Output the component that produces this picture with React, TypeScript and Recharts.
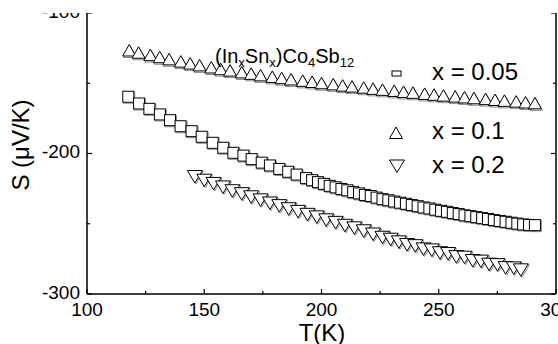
import { ScatterChart, Scatter, XAxis, YAxis } from 'recharts'

// x = 0.05 (squares)
const tempX005 = [
  117.6, 122.2, 126.6, 131.1, 135.4, 139.9, 144.6, 148.9, 153.6, 158.1, 162.4,
  166.7, 170.2, 174.5, 178, 182, 185.8, 189.4, 193.4,
  196, 198.5, 201, 203.5, 206, 208.5, 211, 213.5, 216, 218.5, 221, 223.5, 226,
  228.5, 231, 233.5, 236, 238.5, 241, 243.5, 246, 248.5, 251, 253.5, 256, 258.5,
  261, 263.5, 266, 268.5, 271, 273.5, 276, 278.5, 281, 283.5, 286, 288.5, 291,
]
const seebeckX005 = [
  -159.6, -164.4, -168.2, -172.2, -176.3, -180.6, -184.1, -188.1, -192.4, -195.9, -199.5,
  -201.5, -204, -206.5, -208.5, -211, -213, -215, -217.5,
  -219, -220.4, -221.6, -223, -224.1, -225.3, -226.2, -227.5, -228.4, -229.5, -230.3,
  -231.4, -232.5, -233.3, -234.2, -235, -235.8, -236.7, -237.5, -238.4, -239.1, -240,
  -240.8, -241.5, -242.4, -243.1, -244, -244.6, -245.3, -246, -246.6, -247.4, -248,
  -248.6, -249.3, -249.9, -250.5, -250.8, -251,
]

// x = 0.1 (up triangles)
const tempX01 = [
  118, 122, 127, 131, 135, 140, 144, 148, 153, 157, 161, 166, 170, 174, 179, 183,
  187, 192, 196, 200, 205, 209, 213, 218, 222, 226, 231, 235, 239, 244, 248, 252,
  257, 261, 265, 270, 274, 278, 283, 287, 291,
]
const seebeckX01 = [
  -126.7, -128.3, -130, -131.5, -133, -134.6, -136, -137.3, -138.8, -140, -141,
  -142.3, -143.3, -144.4, -145.5, -146.4, -147.3, -148.3, -149.1, -150, -150.8,
  -151.7, -152.4, -153.2, -154, -154.7, -155.5, -156.2, -156.8, -157.6, -158.2,
  -158.8, -159.5, -160.1, -160.7, -161.3, -161.9, -162.5, -163.1, -163.7, -164.3,
]

// x = 0.2 (down triangles)
const tempX02 = [
  146, 150, 154, 158, 162, 166, 170, 174, 178, 182, 186, 190, 194, 198, 202, 206,
  210, 214, 218, 222, 226, 229.5, 233, 236.5, 240, 243.5, 247, 250.5, 254, 257.5,
  261, 264.5, 268, 271.5, 275, 278.5, 282, 285,
]
const seebeckX02 = [
  -216.4, -219, -221.3, -223.8, -226.5, -228.6, -230.8, -233, -235.2, -237.1,
  -239.3, -241.2, -243.3, -245.1, -247.2, -249, -251.1, -252.9, -255, -257.3,
  -259.6, -261, -262.9, -264.8, -265.6, -267.9, -268.6, -270.6, -271.2, -273.4,
  -273.8, -276.2, -276.6, -278.8, -279.1, -281.2, -281.4, -282.8,
]

const xTicks = [100, 125, 150, 175, 200, 225, 250, 275, 300]
const xLabelTicks = [100, 150, 200, 250, 300]
const yTicks = [-300, -250, -200, -150, -100]
const yLabelTicks = [-300, -200, -100]
const legendLabels = ['x = 0.05', 'x = 0.1', 'x = 0.2']

const FONT = 'Liberation Sans, Arial, sans-serif'
const SHADOW = '#8c8c8c'
const LEFT_GAP = 7
const BOTTOM_GAP = 9

const toPoints = (t: number[], s: number[]) => t.map((v, i) => ({ t: v, s: s[i] }))

const SquareMark = ({ cx, cy }: any) => (
  <g>
    <rect x={cx - 4.5} y={cy - 4.5} width={11} height={11} fill="none" stroke={SHADOW} />
    <rect x={cx - 5.5} y={cy - 5.5} width={11} height={11} fill="#fff" stroke="#000" />
  </g>
)

const upPts = (cx: number, cy: number) =>
  `${cx},${cy - 6} ${cx + 6.5},${cy + 5.5} ${cx - 6.5},${cy + 5.5}`
const downPts = (cx: number, cy: number) =>
  `${cx - 7.5},${cy - 6} ${cx + 7.5},${cy - 6} ${cx},${cy + 6.5}`

const UpMark = ({ cx, cy }: any) => (
  <g>
    <polygon points={upPts(cx + 1, cy + 1.5)} fill="none" stroke={SHADOW} />
    <polygon points={upPts(cx, cy)} fill="#fff" stroke="#000" />
  </g>
)

const DownMark = ({ cx, cy }: any) => (
  <g>
    <polygon points={downPts(cx + 1, cy + 1)} fill="none" stroke={SHADOW} />
    <polygon points={downPts(cx, cy)} fill="#fff" stroke="#000" />
  </g>
)

const BottomTick = ({ x, y, payload }: any) => {
  const major = xLabelTicks.includes(payload.value)
  const axisY = y - BOTTOM_GAP
  return (
    <g>
      <line x1={x} x2={x} y1={axisY} y2={axisY - (major ? 5 : 3)} stroke="#000" strokeWidth={1.2} />
      {major && (
        <text x={x} y={y} dy="0.71em" textAnchor="middle" fontSize={19} fontFamily={FONT} fill="#000">
          {payload.value}
        </text>
      )}
    </g>
  )
}

const TopTick = ({ x, y, payload }: any) => {
  const major = xLabelTicks.includes(payload.value)
  return <line x1={x} x2={x} y1={y} y2={y + (major ? 5 : 3)} stroke="#000" strokeWidth={1.2} />
}

const LeftTick = ({ x, y, payload }: any) => {
  const major = yLabelTicks.includes(payload.value)
  const axisX = x + LEFT_GAP
  return (
    <g>
      <line x1={axisX} x2={axisX + (major ? 5 : 3)} y1={y} y2={y} stroke="#000" strokeWidth={1.2} />
      {major && (
        <text x={x} y={y} dy="0.25em" textAnchor="end" fontSize={19} fontFamily={FONT} fill="#000">
          {payload.value}
        </text>
      )}
    </g>
  )
}

const RightTick = ({ x, y, payload }: any) => {
  const major = yLabelTicks.includes(payload.value)
  return <line x1={x} x2={x - (major ? 5 : 3)} y1={y} y2={y} stroke="#000" strokeWidth={1.2} />
}

export default function App() {
  const axisLine = { stroke: '#000', strokeWidth: 1.5 }
  return (
    <div style={{ position: 'absolute', left: 0, top: 0, width: 558, height: 344, background: '#fff' }}>
      <ScatterChart width={558} height={344} margin={{ top: 12, right: 0, bottom: 0, left: 0 }}>
        <XAxis
          xAxisId="main"
          dataKey="t"
          type="number"
          domain={[100, 300]}
          allowDataOverflow
          ticks={xTicks}
          interval={0}
          height={50}
          tickSize={0}
          tickMargin={BOTTOM_GAP}
          tickLine={false}
          axisLine={axisLine}
          tick={BottomTick}
        />
        <XAxis
          xAxisId="top"
          orientation="top"
          type="number"
          domain={[100, 300]}
          allowDataOverflow
          ticks={xTicks}
          interval={0}
          height={1}
          tickSize={0}
          tickMargin={0}
          tickLine={false}
          axisLine={false}
          tick={TopTick}
        />
        <YAxis
          yAxisId="main"
          dataKey="s"
          type="number"
          domain={[-300, -100]}
          allowDataOverflow
          ticks={yTicks}
          interval={0}
          width={87}
          tickSize={0}
          tickMargin={LEFT_GAP}
          tickLine={false}
          axisLine={axisLine}
          tick={LeftTick}
        />
        <YAxis
          yAxisId="right"
          orientation="right"
          type="number"
          domain={[-300, -100]}
          allowDataOverflow
          ticks={yTicks}
          interval={0}
          width={2}
          tickSize={0}
          tickMargin={0}
          tickLine={false}
          axisLine={axisLine}
          tick={RightTick}
        />
        <Scatter
          xAxisId="main"
          yAxisId="main"
          name={legendLabels[0]}
          data={toPoints(tempX005, seebeckX005)}
          shape={SquareMark}
          isAnimationActive={false}
        />
        <Scatter
          xAxisId="main"
          yAxisId="main"
          name={legendLabels[2]}
          data={toPoints(tempX02, seebeckX02)}
          shape={DownMark}
          isAnimationActive={false}
        />
        <Scatter
          xAxisId="main"
          yAxisId="main"
          name={legendLabels[1]}
          data={toPoints(tempX01, seebeckX01)}
          shape={UpMark}
          isAnimationActive={false}
        />
      </ScatterChart>
      <svg
        width={558}
        height={344}
        style={{ position: 'absolute', left: 0, top: 0, pointerEvents: 'none' }}
        fontFamily={FONT}
      >
        {/* the top strip of the original figure is blanked out */}
        <rect x={0} y={0} width={558} height={13} fill="#fff" />
        <text x={215} y={63} fontSize={20} fill="#000">
          (In<tspan fontSize={13} dy={4}>x</tspan>
          <tspan dy={-4}>Sn</tspan>
          <tspan fontSize={13} dy={4}>x</tspan>
          <tspan dy={-4}>)Co</tspan>
          <tspan fontSize={13} dy={4}>4</tspan>
          <tspan dy={-4}>Sb</tspan>
          <tspan fontSize={13} dy={4}>12</tspan>
        </text>
        <rect x={392} y={71} width={9} height={5} fill="#fff" stroke="#000" />
        <text x={432} y={80} fontSize={24} fill="#000">{legendLabels[0]}</text>
        <polygon points={upPts(396, 133)} fill="#fff" stroke="#000" />
        <text x={432} y={139} fontSize={24} fill="#000">{legendLabels[1]}</text>
        <polygon points={downPts(397, 166)} fill="#fff" stroke="#000" />
        <text x={432} y={173} fontSize={24} fill="#000">{legendLabels[2]}</text>
        <text x={322} y={341} fontSize={24} textAnchor="middle" fill="#000">T(K)</text>
        <text transform="translate(29,145) rotate(-90)" fontSize={24} textAnchor="middle" fill="#000">
          S (μV/K)
        </text>
      </svg>
    </div>
  )
}
